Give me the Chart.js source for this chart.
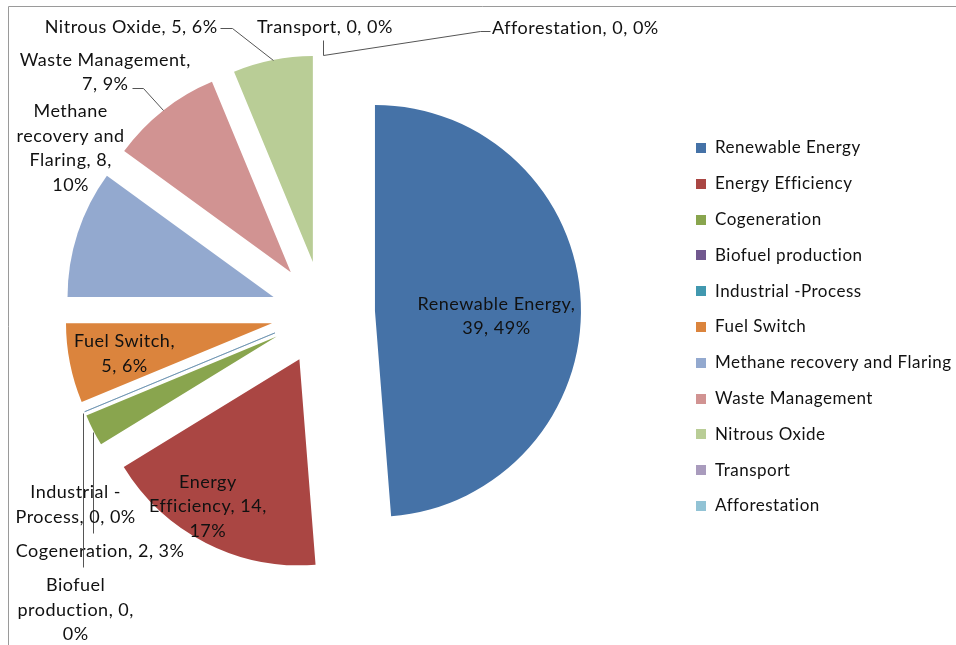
<!DOCTYPE html>
<html>
<head>
<meta charset="utf-8">
<script src="https://cdn.jsdelivr.net/npm/chart.js@4.4.0/dist/chart.umd.min.js"></script>
<style>
  html, body { margin: 0; padding: 0; background: #fff; }
  #wrap { position: relative; width: 956px; height: 645px; }
</style>
</head>
<body>
<div id="wrap"><canvas id="pieChart" width="956" height="645"></canvas></div>
<script>
// --- data ---
const categories = ['Renewable Energy', 'Energy Efficiency', 'Cogeneration', 'Biofuel production',
    'Industrial -Process', 'Fuel Switch', 'Methane recovery and Flaring', 'Waste Management',
    'Nitrous Oxide', 'Transport', 'Afforestation'];
const projectCounts = [39, 14, 2, 0, 0, 5, 8, 7, 5, 0, 0];
const percentLabels = ['49%', '17%', '3%', '0%', '0%', '6%', '10%', '9%', '6%', '0%', '0%'];

// how each data label is broken into lines in the original
const labelLines = [
    ['Renewable Energy,', '39, 49%'],
    ['Energy', 'Efficiency, 14,', '17%'],
    ['Cogeneration, 2, 3%'],
    ['Biofuel', 'production, 0,', '0%'],
    ['Industrial -', 'Process, 0, 0%'],
    ['Fuel Switch,', '5, 6%'],
    ['Methane', 'recovery and', 'Flaring, 8,', '10%'],
    ['Waste Management,', '7, 9%'],
    ['Nitrous Oxide, 5, 6%'],
    ['Transport, 0, 0%'],
    ['Afforestation, 0, 0%']
];

const sliceColors = ['#4572A7', '#AA4643', '#89A54E', '#71588F', '#4198AF', '#DB843D',
    '#93A9CF', '#D19392', '#B9CD96', '#A99BBD', '#92C3D5'];

// label placement: f = fraction of radius along mid angle, dx/dy offset, leader points relative to anchor
const labelPlace = [
    { f: 0.59, dx: 0, dy: 10, align: 'center' },
    { f: 0.84, dx: -13, dy: -7, align: 'center' },
    { f: 1, dx: 7, dy: 121, align: 'center', leader: [[0, 2], [0, 103]] },
    { f: 1, dx: -9, dy: 198, align: 'center', leader: [[-2, 1], [-2, 155]] },
    { f: 1, dx: -9, dy: 93, align: 'center' },
    { f: 0.73, dx: 0, dy: 1, align: 'center' },
    { f: 1, dx: -7, dy: -85, align: 'center' },
    { f: 1, dx: -58, dy: -38, align: 'center', leader: [[0, 0], [-20, -22], [-31, -22]] },
    { f: 1, dx: -55, dy: -33, align: 'right', leader: [[0, 0], [-41, -32], [-53, -32]] },
    { f: 1, dx: 2, dy: -28, align: 'center', leader: [[0, 0], [0, -15]] },
    { f: 1, dx: 169, dy: -27, align: 'left', leader: [[0, 0], [157, -24], [167, -24]] }
];
const zeroSliceLines = ['Biofuel production', 'Industrial -Process'];

const EXPLODE = 52;
const LABEL_FONT = '18px Lato, "Liberation Sans", sans-serif';
const LEGEND_FONT = '17px Lato, "Liberation Sans", sans-serif';
const LINE_H = 24.5;
const TEXT_COLOR = '#111';

const framePlugin = {
    id: 'frame',
    beforeDraw(chart) {
        const c = chart.ctx;
        c.save();
        c.strokeStyle = '#9a9a9a';
        c.lineWidth = 1;
        c.beginPath();
        c.moveTo(8.5, 700);
        c.lineTo(8.5, 6.5);
        c.lineTo(1000, 6.5);
        c.stroke();
        c.restore();
    }
};

// draw every slice pulled out from the centre along its mid angle
const explodePlugin = {
    id: 'explode',
    beforeDatasetDraw(chart, args) {
        const c = chart.ctx;
        const meta = args.meta;
        meta.data.forEach((arc, i) => {
            const mid = (arc.startAngle + arc.endAngle) / 2;
            const ox = Math.cos(mid) * EXPLODE, oy = Math.sin(mid) * EXPLODE;
            if (arc.endAngle - arc.startAngle === 0) {
                if (!zeroSliceLines.includes(categories[i])) return;
                c.save();
                c.strokeStyle = sliceColors[i];
                c.globalAlpha = 0.6;
                c.lineWidth = 1;
                c.beginPath();
                c.moveTo(arc.x + ox, arc.y + oy);
                c.lineTo(arc.x + ox + Math.cos(mid) * arc.outerRadius, arc.y + oy + Math.sin(mid) * arc.outerRadius);
                c.stroke();
                c.restore();
                return;
            }
            c.save();
            c.translate(ox, oy);
            arc.draw(c);
            c.restore();
        });
        return false;
    }
};

const labelPlugin = {
    id: 'sliceLabels',
    afterDatasetsDraw(chart) {
        const c = chart.ctx;
        const meta = chart.getDatasetMeta(0);
        c.save();
        c.font = LABEL_FONT;
        c.letterSpacing = '0.5px';
        c.fillStyle = TEXT_COLOR;
        c.textBaseline = 'middle';
        meta.data.forEach((arc, i) => {
            const p = labelPlace[i];
            const mid = (arc.startAngle + arc.endAngle) / 2;
            const dist = EXPLODE + p.f * arc.outerRadius;
            const ax = arc.x + Math.cos(mid) * dist;
            const ay = arc.y + Math.sin(mid) * dist;
            if (p.leader) {
                c.save();
                c.strokeStyle = '#555';
                c.lineWidth = 1;
                c.beginPath();
                p.leader.forEach((pt, k) => {
                    const x = Math.round(ax + pt[0]) + 0.5, y = Math.round(ay + pt[1]) + 0.5;
                    if (k === 0) c.moveTo(x, y); else c.lineTo(x, y);
                });
                c.stroke();
                c.restore();
            }
            const lines = labelLines[i];
            const top = ay + p.dy - (lines.length - 1) * LINE_H / 2;
            c.textAlign = p.align;
            lines.forEach((t, k) => c.fillText(t, ax + p.dx, top + k * LINE_H));
        });
        c.restore();
    }
};

const legendPlugin = {
    id: 'sideLegend',
    afterDraw(chart) {
        const c = chart.ctx;
        c.save();
        c.font = LEGEND_FONT;
        c.letterSpacing = '0.5px';
        c.textBaseline = 'middle';
        c.textAlign = 'left';
        categories.forEach((name, i) => {
            const y = 148 + i * 35.8;
            c.fillStyle = sliceColors[i];
            c.fillRect(696, Math.round(y - 5), 10, 10);
            c.fillStyle = TEXT_COLOR;
            c.fillText(name, 715, y);
        });
        c.restore();
    }
};

new Chart(document.getElementById('pieChart'), {
    type: 'pie',
    data: {
        labels: categories,
        datasets: [{
            data: projectCounts,
            backgroundColor: sliceColors,
            borderWidth: 0,
            radius: 206
        }]
    },
    options: {
        responsive: false,
        devicePixelRatio: 1,
        animation: false,
        events: [],
        layout: { padding: { left: 0, top: 0, right: 310, bottom: 19 } },
        plugins: {
            legend: { display: false },
            tooltip: { enabled: false }
        }
    },
    plugins: [framePlugin, explodePlugin, labelPlugin, legendPlugin]
});
</script>
</body>
</html>
